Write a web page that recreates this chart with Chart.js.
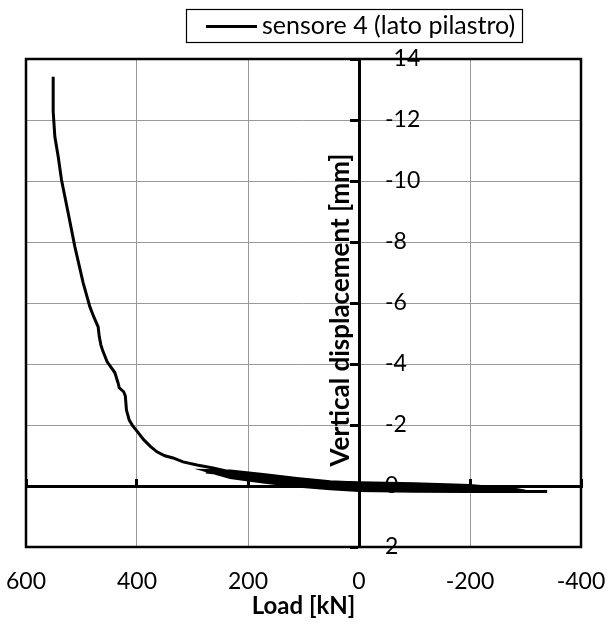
<!DOCTYPE html>
<html>
<head>
<meta charset="utf-8">
<script src="https://cdn.jsdelivr.net/npm/chart.js@4.4.1/dist/chart.umd.min.js"></script>
<style>
  html, body { margin: 0; padding: 0; background: #fff; }
</style>
</head>
<body>
<canvas id="myChart" width="608" height="628"></canvas>
<script>
// Load [kN] and vertical displacement [mm], in test order (cycles, then final loading)
const loadKN = [
  0, 52, 112, 173, 232, 276,
  232, 173, 112, 52, 0, -100, -200, -286,
  -200, -100, 0, 52, 112, 173, 232, 276,
  232, 173, 112, 52, 0, -100, -200, -286,
  -200, -100, 0, 52, 112, 173, 232, 276,
  232, 173, 112, 52, 0, -100, -200, -286,
  -200, -100, 0, 52, 112, 173, 232, 276,
  232, 173, 112, 52, 0, -100, -200, -286, -339,
  -300, -286, -200, -100, 0, 52, 112, 173, 232, 263, 292, 317, 335, 350, 364, 376, 388, 400, 408,
  414, 419, 421, 424, 432, 434, 440, 447, 454, 462, 465, 468, 470, 478, 485, 497, 512, 524,
  536, 542, 548, 551, 551
];
const dispMM = [
  0.00, -0.08, -0.18, -0.30, -0.42, -0.46,
  -0.38, -0.24, -0.12, -0.02, 0.05, 0.11, 0.14, 0.16,
  0.07, 0.02, -0.04, -0.10, -0.21, -0.33, -0.45, -0.48,
  -0.35, -0.20, -0.07, 0.03, 0.09, 0.14, 0.16, 0.17,
  0.03, -0.02, -0.07, -0.12, -0.23, -0.36, -0.47, -0.49,
  -0.31, -0.16, -0.03, 0.06, 0.12, 0.16, 0.17, 0.18,
  0.00, -0.05, -0.10, -0.14, -0.25, -0.38, -0.49, -0.51,
  -0.28, -0.13, 0.00, 0.09, 0.15, 0.17, 0.18, 0.18, 0.18,
  0.17, 0.12, -0.02, -0.07, -0.11, -0.13, -0.21, -0.33, -0.46, -0.59, -0.69, -0.79, -0.92, -0.99, -1.12, -1.30, -1.52, -1.80, -1.98,
  -2.16, -2.49, -2.95, -3.09, -3.22, -3.37, -3.72, -3.90, -4.08, -4.45, -4.62, -4.90, -5.22, -5.55, -5.88, -6.66, -7.85, -8.95,
  -10.03, -10.80, -11.45, -12.27, -13.42
];
const xTickVals = [600, 400, 200, 0, -200, -400];
const yTickVals = [-14, -12, -10, -8, -6, -4, -2, 0, 2];

const seriesLabel = 'sensore 4 (lato pilastro)';
const xTitle = 'Load [kN]';
const yTitle = 'Vertical displacement [mm]';

const FONT = 'Lato';
const GRID = '#9a9a9a';

// labels of the y axis sit right of the axis line, left aligned
const yLabelShift = {
  id: 'yLabelShift',
  beforeDraw(chart) {
    const s = chart.scales.y;
    const x0 = chart.scales.x.getPixelForValue(0);
    s.getLabelItems(chart.chartArea).forEach(it => {
      it.options.textAlign = 'left';
      it.options.translation[0] = x0 + 26;
    });
  }
};

const plotFrame = {
  id: 'plotFrame',
  beforeDatasetsDraw(chart) {
    const a = chart.chartArea;
    const ctx = chart.ctx;
    ctx.save();
    ctx.strokeStyle = '#000';
    ctx.lineWidth = 2.5;
    ctx.strokeRect(a.left, a.top, a.right - a.left, a.bottom - a.top);
    ctx.restore();
  },
  afterDraw(chart) {
    const ctx = chart.ctx;
    const a = chart.chartArea;
    ctx.save();
    // y title, rotated, left of the y axis
    const x0 = chart.scales.x.getPixelForValue(0);
    ctx.translate(x0 - 18, (a.top + a.bottom) / 2 + 7);
    ctx.rotate(-Math.PI / 2);
    ctx.font = 'bold 26px ' + FONT;
    ctx.fillStyle = '#000';
    ctx.textAlign = 'center';
    ctx.textBaseline = 'middle';
    ctx.fillText(yTitle, 0, 0);
    ctx.restore();

    // legend box
    ctx.save();
    ctx.strokeStyle = '#000';
    ctx.lineWidth = 1.2;
    ctx.strokeRect(186.5, 9.5, 336, 33);
    ctx.lineWidth = 3;
    ctx.beginPath();
    ctx.moveTo(206, 26.5);
    ctx.lineTo(257, 26.5);
    ctx.stroke();
    ctx.font = '25px ' + FONT;
    ctx.fillStyle = '#000';
    ctx.textBaseline = 'middle';
    ctx.fillText(chart.data.datasets[0].label, 262, 26);
    ctx.restore();
  }
};

const ctx = document.getElementById('myChart').getContext('2d');
const myChart = new Chart(ctx, {
  type: 'scatter',
  data: {
    datasets: [{
      label: seriesLabel,
      data: loadKN.map((v, i) => ({ x: v, y: dispMM[i] })),
      showLine: true,
      borderColor: '#000',
      borderWidth: 3,
      pointRadius: 0,
      tension: 0
    }]
  },
  options: {
    responsive: false,
    animation: false,
    layout: { padding: { left: 26, right: 27, top: 59, bottom: 0 } },
    plugins: { legend: { display: false }, tooltip: { enabled: false } },
    scales: {
      x: {
        type: 'linear',
        position: 'bottom',
        min: -400,
        max: 600,
        reverse: true,
        afterBuildTicks: s => { s.ticks = xTickVals.map(v => ({ value: v })); },
        afterFit: s => { s.paddingLeft = 0; s.paddingRight = 0; s.height = 81; },
        grid: { color: GRID, lineWidth: 1, drawTicks: false },
        border: { display: false },
        ticks: { padding: 21, color: '#000', font: { family: FONT, size: 23 }, maxRotation: 0 },
        title: { display: true, text: xTitle, color: '#000', padding: { top: 0, bottom: 7 },
                 font: { family: FONT, size: 24, weight: 'bold' } }
      },
      x2: {
        type: 'linear',
        position: { y: 0 },
        min: -400,
        max: 600,
        reverse: true,
        afterBuildTicks: s => { s.ticks = xTickVals.map(v => ({ value: v })); },
        grid: { drawOnChartArea: false, tickLength: -9, tickColor: '#000', tickWidth: 3 },
        border: { color: '#000', width: 3 },
        ticks: { display: false }
      },
      y: {
        type: 'linear',
        position: { x: 0 },
        min: -14,
        max: 2,
        reverse: true,
        afterBuildTicks: s => { s.ticks = yTickVals.map(v => ({ value: v })); },
        grid: { color: GRID, lineWidth: 1, tickLength: 8, tickColor: '#000', tickWidth: 3 },
        border: { color: '#000', width: 3 },
        ticks: { color: '#000', font: { family: FONT, size: 23 } }
      }
    }
  },
  plugins: [yLabelShift, plotFrame]
});
</script>
</body>
</html>
